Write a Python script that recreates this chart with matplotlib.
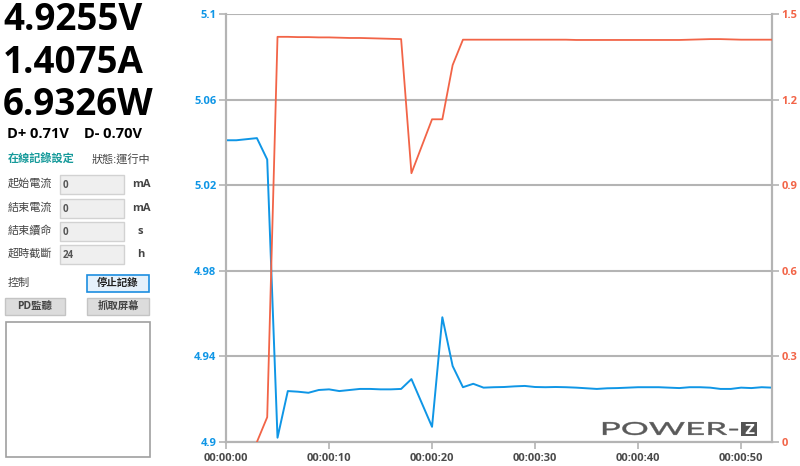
import matplotlib
matplotlib.use("Agg")
import matplotlib.pyplot as plt
from matplotlib.patches import Rectangle, PathPatch
from matplotlib.ticker import FuncFormatter, FixedLocator
from matplotlib.textpath import TextPath
from matplotlib.font_manager import FontProperties
from matplotlib.transforms import Affine2D

plt.rcParams['font.family'] = ['Open Sans', 'Noto Sans CJK TC', 'DejaVu Sans']

# 读数
readings = ["4.9255V", "1.4075A", "6.9326W"]
dline = "D+ 0.71V    D- 0.70V"

# 电压 (左轴)
volt_t = [0, 1, 2, 3, 4, 5, 6, 7, 8, 9, 10, 11, 12, 13, 14, 15, 16, 17, 18, 20,
          21, 22, 23, 24, 25, 26, 27, 28, 29, 30, 31, 32, 33, 34, 35, 36, 37, 38,
          39, 40, 41, 42, 43, 44, 45, 46, 47, 48, 49, 50, 51, 52, 53]
volt_v = [5.041, 5.041, 5.0415, 5.042, 5.032, 4.902, 4.9238, 4.9235, 4.9230, 4.9243,
          4.9246, 4.9238, 4.9243, 4.9248, 4.9248, 4.9246, 4.9246, 4.9248, 4.9294, 4.9071,
          4.9583, 4.9355, 4.9256, 4.9272, 4.9254, 4.9256, 4.9257, 4.9260, 4.9262, 4.9257,
          4.9256, 4.9257, 4.9256, 4.9254, 4.9251, 4.9248, 4.9251, 4.9252, 4.9254, 4.9256,
          4.9256, 4.9256, 4.9254, 4.9252, 4.9256, 4.9256, 4.9254, 4.9248, 4.9248, 4.9254,
          4.9252, 4.9256, 4.9254]

# 电流 (右轴)
curr_t = [3, 4, 5, 6, 7, 8, 9, 10, 11, 12, 13, 14, 15, 16, 17, 18, 20, 21, 22, 23,
          24, 25, 26, 27, 28, 29, 30, 31, 32, 33, 34, 35, 36, 37, 38, 39, 40, 41, 42,
          43, 44, 45, 46, 47, 48, 49, 50, 51, 52, 53]
curr_a = [0.0, 0.087, 1.420, 1.420, 1.419, 1.419, 1.418, 1.418, 1.417, 1.416, 1.416,
          1.415, 1.414, 1.413, 1.412, 0.942, 1.131, 1.131, 1.321, 1.410, 1.410, 1.410,
          1.410, 1.410, 1.410, 1.410, 1.410, 1.410, 1.410, 1.410, 1.409, 1.409, 1.409,
          1.409, 1.409, 1.409, 1.409, 1.409, 1.409, 1.409, 1.409, 1.410, 1.411, 1.412,
          1.412, 1.411, 1.410, 1.410, 1.410, 1.410]

volt_ticks = [4.9, 4.94, 4.98, 5.02, 5.06, 5.1]
curr_ticks = [0, 0.3, 0.6, 0.9, 1.2, 1.5]
time_ticks = [0, 10, 20, 30, 40, 50]
time_labels = ["00:00:00", "00:00:10", "00:00:20", "00:00:30", "00:00:40", "00:00:50"]

BLUE = "#0f96e6"
ORANGE = "#f26447"
GRID = "#b4b4b4"

W, H = 800, 466
fig = plt.figure(figsize=(8, 4.66), dpi=100)

# 图表区
ax = fig.add_axes([226 / W, 24 / H, 546 / W, 428 / H])
ax.plot(volt_t, volt_v, color=BLUE, lw=1.4, zorder=3)
ax.set_xlim(0, 53)
ax.set_ylim(4.9, 5.1)
ax.yaxis.set_major_locator(FixedLocator(volt_ticks))
ax.yaxis.set_major_formatter(FuncFormatter(lambda v, p: "%g" % round(v, 2)))
ax.set_xticks(time_ticks)
ax.set_xticklabels(time_labels)
ax.grid(axis="y", color=GRID, lw=1.5)
ax.set_axisbelow(True)

ax2 = ax.twinx()
ax2.plot(curr_t, curr_a, color=ORANGE, lw=1.3, zorder=3)
ax2.set_ylim(0, 1.5)
ax2.yaxis.set_major_locator(FixedLocator(curr_ticks))
ax2.yaxis.set_major_formatter(FuncFormatter(lambda v, p: "%g" % round(v, 1)))

for a in (ax, ax2):
    a.spines["top"].set_visible(False)
    for s in ("left", "right", "bottom"):
        a.spines[s].set_color(GRID)
        a.spines[s].set_linewidth(1.5)
    a.tick_params(colors=GRID, length=5, width=1.2)
ax.tick_params(axis="y", labelcolor=BLUE, labelsize=8, pad=2)
ax.tick_params(axis="x", labelcolor="#4a4a4a", labelsize=8, pad=3)
ax2.tick_params(axis="y", labelcolor=ORANGE, labelsize=8, pad=2)
for lab in ax.get_yticklabels() + ax2.get_yticklabels() + ax.get_xticklabels():
    lab.set_fontweight("bold")

# 左侧面板 (像素坐标)
ui = fig.add_axes([0, 0, 1, 1], zorder=5)
ui.set_xlim(0, W)
ui.set_ylim(H, 0)
ui.axis("off")

for txt, yb in zip(readings, [30, 73, 115]):
    ui.text(3, yb, txt, fontsize=26.5, fontweight="bold", color="black", va="baseline")
ui.text(7, 138.5, dline, fontsize=10.5, fontweight="bold", color="black", va="baseline")

ui.text(8, 160, "在線記錄設定", fontsize=8, fontweight="bold", color="#169a9a", va="center")
ui.text(92, 160, "狀態:運行中", fontsize=8, color="#444444", va="center")

rows = ["起始電流", "結束電流", "結束續命", "超時截斷"]
row_vals = ["0", "0", "0", "24"]
row_units = ["mA", "mA", "s", "h"]
row_y = [184.5, 208.5, 231.5, 254.5]
for name, val, unit, yc in zip(rows, row_vals, row_units, row_y):
    ui.text(8, yc, name, fontsize=8, color="#444444", va="center")
    ui.add_patch(Rectangle((60, yc - 9.5), 64, 19, facecolor="#efefef",
                           edgecolor="#d2d2d2", lw=1))
    ui.text(63, yc + 1, val, fontsize=7, fontweight="bold", color="#555555", va="center")
    ux = 132 if unit == "mA" else 137
    ui.text(ux, yc, unit, fontsize=8, fontweight="bold", color="#444444", va="center")

ui.text(8, 283, "控制", fontsize=8, color="#444444", va="center")
ui.add_patch(Rectangle((87, 275), 62, 17, facecolor="#e5f1fb", edgecolor="#1c8ee0", lw=1.2))
ui.text(118, 283.5, "停止記錄", fontsize=7.5, fontweight="bold", color="#222222",
        ha="center", va="center")
ui.add_patch(Rectangle((5, 298), 60, 17, facecolor="#dcdcdc", edgecolor="#c4c4c4", lw=1))
ui.text(35, 306.5, "PD監聽", fontsize=7.5, fontweight="bold", color="#444444",
        ha="center", va="center")
ui.add_patch(Rectangle((87, 298), 62, 17, facecolor="#dcdcdc", edgecolor="#c4c4c4", lw=1))
ui.text(118, 306.5, "抓取屏幕", fontsize=7.5, fontweight="bold", color="#444444",
        ha="center", va="center")
ui.add_patch(Rectangle((6, 322), 144, 135, facecolor="white", edgecolor="#a0a0a0", lw=1.2))

# 水印: 横向拉宽的字
tp = TextPath((0, 0), "POWER-", size=20, prop=FontProperties(family="Lato", weight="normal"))
ext = tp.get_extents()
sx = (738 - 603) / ext.width
sy = (435 - 422) / ext.height
tr = Affine2D().translate(-ext.x0, -ext.y0).scale(sx, -sy).translate(603, 435) + ui.transData
ui.add_patch(PathPatch(tp, transform=tr, facecolor="#5a5a5a", edgecolor="#5a5a5a", lw=0.3))
ui.add_patch(Rectangle((741, 422), 16, 14, facecolor="#555555", edgecolor="none"))
ui.text(749, 429.5, "Z", fontsize=10, fontweight="bold", color="white",
        ha="center", va="center", family=["DejaVu Sans"])

fig.savefig("out.png", dpi=100)
